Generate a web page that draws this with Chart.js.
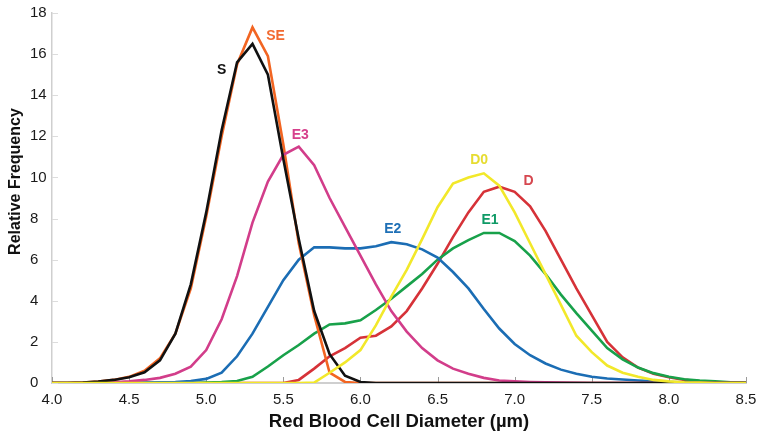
<!DOCTYPE html>
<html lang="en">
<head>
  <meta charset="UTF-8">
  <title>Red Blood Cell Diameter Distribution</title>
  <script src="https://cdn.jsdelivr.net/npm/chart.js"></script>
  <style>
    body {
      margin: 0;
      background-color: #ffffff;
    }
    .chart-box {
      width: 764px;
      height: 434px;
    }
  </style>
</head>
<body>

<div class="chart-box">
  <canvas id="rbcChart" width="764" height="434"></canvas>
</div>

<script>
  // diameters 4.0 .. 8.5 in steps of 0.1
  const diameters = [4.0, 4.1, 4.2, 4.3, 4.4, 4.5, 4.6, 4.7, 4.8, 4.9,
                     5.0, 5.1, 5.2, 5.3, 5.4, 5.5, 5.6, 5.7, 5.8, 5.9,
                     6.0, 6.1, 6.2, 6.3, 6.4, 6.5, 6.6, 6.7, 6.8, 6.9,
                     7.0, 7.1, 7.2, 7.3, 7.4, 7.5, 7.6, 7.7, 7.8, 7.9,
                     8.0, 8.1, 8.2, 8.3, 8.4, 8.5];

  const seriesD0 = [0, 0, 0, 0, 0, 0, 0, 0, 0, 0,
                    0, 0, 0, 0, 0, 0, 0, 0.02, 0.5, 1.0,
                    1.6, 2.8, 4.2, 5.5, 7.0, 8.55, 9.7, 10.0, 10.2, 9.6,
                    8.3, 6.8, 5.3, 3.8, 2.3, 1.5, 0.85, 0.5, 0.3, 0.15,
                    0.08, 0.04, 0.02, 0, 0, 0];
  const seriesS = [0, 0, 0.02, 0.07, 0.15, 0.28, 0.52, 1.1, 2.4, 4.8,
                   8.3, 12.3, 15.6, 16.5, 15.0, 10.9, 7.0, 3.5, 1.4, 0.35,
                   0.05, 0, 0, 0, 0, 0, 0, 0, 0, 0,
                   0, 0, 0, 0, 0, 0, 0, 0, 0, 0,
                   0, 0, 0, 0, 0, 0];
  const seriesE3 = [0, 0, 0, 0.02, 0.04, 0.08, 0.15, 0.25, 0.45, 0.8,
                    1.6, 3.1, 5.2, 7.8, 9.8, 11.1, 11.5, 10.6, 9.0, 7.6,
                    6.2, 4.8, 3.5, 2.5, 1.7, 1.1, 0.7, 0.45, 0.25, 0.12,
                    0.08, 0.05, 0.03, 0.02, 0.01, 0, 0, 0, 0, 0,
                    0, 0, 0, 0, 0, 0];
  const seriesSE = [0, 0, 0.02, 0.07, 0.15, 0.3, 0.6, 1.2, 2.4, 4.6,
                    8.1, 12.0, 15.5, 17.3, 15.9, 11.6, 6.8, 3.3, 0.5, 0.05,
                    0, 0, 0, 0, 0, 0, 0, 0, 0, 0,
                    0, 0, 0, 0, 0, 0, 0, 0, 0, 0,
                    0, 0, 0, 0, 0, 0];
  const seriesE2 = [0, 0, 0, 0, 0, 0.01, 0.02, 0.03, 0.05, 0.1,
                    0.2, 0.5, 1.3, 2.4, 3.7, 5.0, 6.0, 6.6, 6.6, 6.55,
                    6.55, 6.65, 6.85, 6.75, 6.5, 6.1, 5.4, 4.6, 3.6, 2.65,
                    1.9, 1.35, 0.95, 0.65, 0.45, 0.3, 0.22, 0.17, 0.12, 0.08,
                    0.05, 0.03, 0.02, 0, 0, 0];
  const seriesE1 = [0, 0, 0, 0, 0, 0, 0, 0, 0, 0,
                    0.02, 0.05, 0.1, 0.3, 0.8, 1.35, 1.85, 2.4, 2.85, 2.9,
                    3.05, 3.55, 4.1, 4.7, 5.3, 6.0, 6.55, 6.95, 7.3, 7.3,
                    6.9, 6.2, 5.3, 4.3, 3.4, 2.55, 1.7, 1.15, 0.75, 0.48,
                    0.3, 0.18, 0.12, 0.08, 0.04, 0.02];
  const seriesD = [0, 0, 0, 0, 0, 0, 0, 0, 0, 0,
                   0, 0, 0, 0, 0, 0, 0.15, 0.7, 1.3, 1.7,
                   2.2, 2.3, 2.75, 3.5, 4.6, 5.8, 7.1, 8.3, 9.3, 9.55,
                   9.3, 8.6, 7.4, 6.0, 4.6, 3.3, 2.0, 1.25, 0.75, 0.45,
                   0.28, 0.15, 0.08, 0.04, 0.02, 0.01];

  // first series is drawn on top
  const seriesNames = ['D0', 'S', 'E3', 'SE', 'E2', 'E1', 'D'];
  const seriesValues = [seriesD0, seriesS, seriesE3, seriesSE, seriesE2, seriesE1, seriesD];
  const lineColors = ['#f2e82a', '#111111', '#d23d8a', '#f26522', '#1b6db4', '#18a14a', '#d63238'];
  const labelColors = ['#e6dc30', '#111111', '#d6408c', '#f26a30', '#1f70b6', '#0f9a66', '#d6474f'];

  // where each curve name sits, in data units
  const labelX = [6.77, 5.10, 5.61, 5.45, 6.21, 6.84, 7.09];
  const labelY = [10.85, 15.2, 12.05, 16.85, 7.5, 7.9, 9.8];

  const xTicks = { min: 4.0, max: 8.5, step: 0.5 };
  const yTicks = { min: 0, max: 18, step: 2 };
  const yTitle = 'Relative Frequency';

  const fontFamily = '"Liberation Sans", Arial, Helvetica, sans-serif';

  const datasets = seriesNames.map((name, i) => ({
    label: name,
    data: diameters.map((d, j) => ({ x: d, y: seriesValues[i][j] })),
    borderColor: lineColors[i],
    borderWidth: 2.6,
    pointRadius: 0,
    tension: 0,
    fill: false
  }));

  // small tick marks pointing into the plot
  const innerTicks = {
    id: 'innerTicks',
    beforeDatasetsDraw(chart) {
      const { ctx, chartArea, scales: { x, y } } = chart;
      ctx.save();
      ctx.lineWidth = 1;
      ctx.strokeStyle = '#dcdcdc';
      y.ticks.forEach(t => {
        const py = Math.round(y.getPixelForValue(t.value)) + 0.5;
        ctx.beginPath();
        ctx.moveTo(chartArea.left, py);
        ctx.lineTo(chartArea.left + 6, py);
        ctx.stroke();
      });
      ctx.strokeStyle = '#9a9a9a';
      x.ticks.forEach(t => {
        const px = Math.round(x.getPixelForValue(t.value)) + 0.5;
        ctx.beginPath();
        ctx.moveTo(px, chartArea.bottom);
        ctx.lineTo(px, chartArea.bottom - 6);
        ctx.stroke();
      });
      ctx.restore();
    }
  };

  const curveLabels = {
    id: 'curveLabels',
    afterDatasetsDraw(chart) {
      const { ctx, scales: { x, y } } = chart;
      ctx.save();
      ctx.font = 'bold 14px ' + fontFamily;
      ctx.textAlign = 'center';
      ctx.textBaseline = 'middle';
      seriesNames.forEach((name, i) => {
        ctx.fillStyle = labelColors[i];
        ctx.fillText(name, x.getPixelForValue(labelX[i]), y.getPixelForValue(labelY[i]));
      });
      ctx.restore();
    }
  };

  // y axis title sits a little above the middle of the axis
  const yAxisTitle = {
    id: 'yAxisTitle',
    afterDraw(chart) {
      const { ctx, scales: { y } } = chart;
      ctx.save();
      ctx.translate(16, y.getPixelForValue(9.8));
      ctx.rotate(-Math.PI / 2);
      ctx.font = 'bold 16px ' + fontFamily;
      ctx.fillStyle = '#111111';
      ctx.textAlign = 'center';
      ctx.textBaseline = 'middle';
      ctx.fillText(yTitle, 0, 0);
      ctx.restore();
    }
  };

  const ctx = document.getElementById('rbcChart').getContext('2d');
  const rbcChart = new Chart(ctx, {
    type: 'line',
    data: { datasets: datasets },
    options: {
      responsive: false,
      animation: false,
      devicePixelRatio: 1,
      layout: { padding: { left: 30, right: 18, top: 13, bottom: 0 } },
      plugins: {
        legend: { display: false },
        tooltip: { enabled: false }
      },
      scales: {
        x: {
          type: 'linear',
          min: xTicks.min,
          max: xTicks.max,
          afterFit(scale) { scale.height = 51; },
          grid: { display: false },
          border: { display: true, color: '#cfcfcf', width: 2 },
          ticks: {
            stepSize: xTicks.step,
            padding: 0,
            color: '#1a1a1a',
            font: { family: fontFamily, size: 15 },
            maxRotation: 0,
            callback: v => v.toFixed(1)
          },
          title: {
            display: true,
            text: 'Red Blood Cell Diameter (µm)',
            color: '#111111',
            font: { family: fontFamily, size: 18.5, weight: 'bold' },
            padding: { top: 0, bottom: 1 }
          }
        },
        y: {
          min: yTicks.min,
          max: yTicks.max,
          afterFit(scale) { scale.width = 22; },
          grid: { display: false },
          border: { display: true, color: '#cfcfcf', width: 1.5 },
          ticks: {
            stepSize: yTicks.step,
            crossAlign: 'far',
            color: '#1a1a1a',
            font: { family: fontFamily, size: 15 }
          },
          title: { display: false }
        }
      }
    },
    plugins: [innerTicks, curveLabels, yAxisTitle]
  });
</script>

</body>
</html>
